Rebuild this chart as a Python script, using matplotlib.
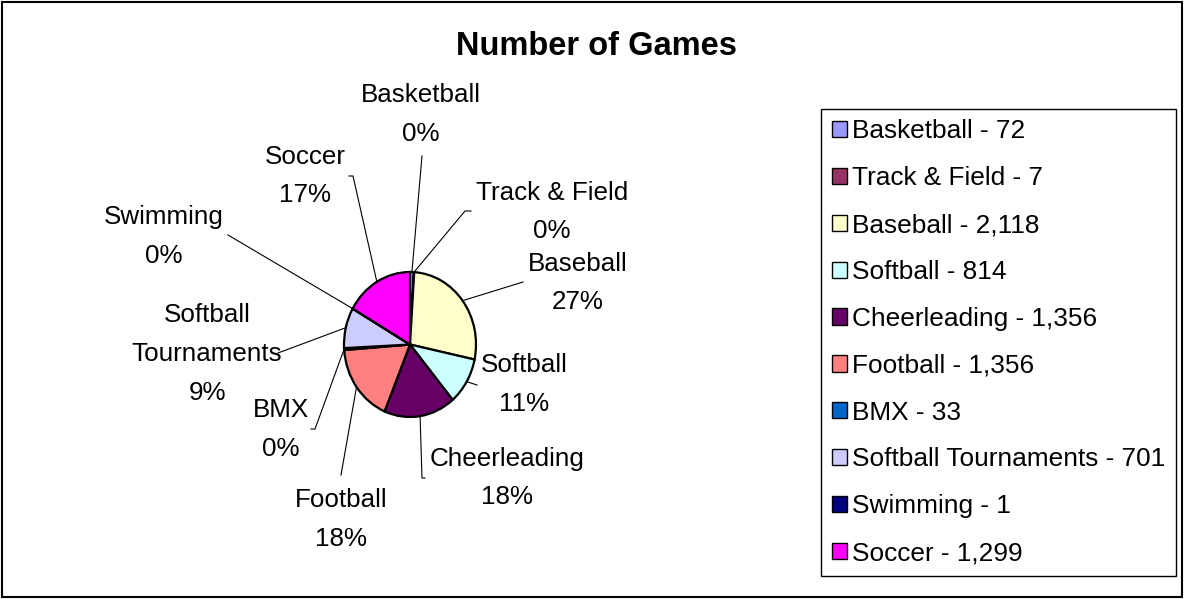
import numpy as np
import matplotlib
matplotlib.use('Agg')
import matplotlib.pyplot as plt
from matplotlib.patches import Patch, Rectangle

plt.rcParams['font.family'] = ['Liberation Sans', 'DejaVu Sans']

# data
sports = ['Basketball', 'Track & Field', 'Baseball', 'Softball', 'Cheerleading',
          'Football', 'BMX', 'Softball Tournaments', 'Swimming', 'Soccer']
games = [72, 7, 2118, 814, 1356, 1356, 33, 701, 1, 1299]
pct_labels = ['0%', '0%', '27%', '11%', '18%', '18%', '0%', '9%', '0%', '17%']
colors = ['#9999FF', '#993366', '#FFFFCC', '#CCFFFF', '#660066',
          '#FF8080', '#0066CC', '#CCCCFF', '#000080', '#FF00FF']

# layout (pixels, top-left origin)
W, H = 1184, 599
cx, cy, rx, ry = 410, 344.5, 66, 72.5  # pie is a little stretched vertically
label_centers = [(421, 112.5), (552, 210), (578, 281), (524, 382.5), (507, 476),
                 (341, 517.5), (281, 427.5), (207, 352), (164, 234.5), (305, 174)]
leader_start = [(422, 156), (471, 211), (523, 282), (477, 385), (425, 478),
                (341, 475), (311, 429), (278, 353), (228, 235), (349, 176)]
leader_elbow = [None, (465, 211), None, None, (422, 478),
                None, (315, 429), None, None, (353, 176)]
line_gap = 38.5
fs = 18.7

fig = plt.figure(figsize=(W / 100, H / 100), dpi=100)

ov = fig.add_axes([0, 0, 1, 1])
ov.set_xlim(0, W)
ov.set_ylim(H, 0)
ov.axis('off')
ov.set_zorder(0)

ax = fig.add_axes([(cx - rx) / W, (H - cy - ry) / H, 2 * rx / W, 2 * ry / H])
wedges, _ = ax.pie(games, colors=colors, startangle=90, counterclock=False,
                   wedgeprops=dict(edgecolor='black', linewidth=1.6))
for w in wedges:
    w.set_clip_on(False)
ax.set_aspect('auto')
ax.set_xlim(-1, 1)
ax.set_ylim(-1, 1)
ax.set_zorder(1)

# leader lines to the middle of each slice
vals = np.array(games, dtype=float)
mid = (np.cumsum(vals) - vals / 2) / vals.sum() * 360
ang = np.radians(90 - mid)
for i in range(len(sports)):
    ex = cx + rx * np.cos(ang[i])
    ey = cy - ry * np.sin(ang[i])
    pts = [leader_start[i]]
    if leader_elbow[i] is not None:
        pts.append(leader_elbow[i])
    pts.append((ex, ey))
    xs, ys = zip(*pts)
    ov.plot(xs, ys, color='black', lw=0.8)

# slice labels
for i, name in enumerate(sports):
    lines = ['Softball', 'Tournaments'] if name == 'Softball Tournaments' else [name]
    lines = lines + [pct_labels[i]]
    x0, y0 = label_centers[i]
    n = len(lines)
    for j, t in enumerate(lines):
        y = y0 + (j - (n - 1) / 2) * line_gap
        ov.text(x0, y + 9, t, ha='center', va='baseline', fontsize=fs)

ov.text(597, 55, 'Number of Games', ha='center', va='baseline',
        fontsize=23.5, fontweight='bold')

handles = [Patch(facecolor=c, edgecolor='black', linewidth=1) for c in colors]
labels = [f'{s} - {g:,}' for s, g in zip(sports, games)]
leg = fig.legend(handles, labels, loc='upper left', bbox_to_anchor=(821 / W, 1 - 109 / H),
                 fontsize=18.9, frameon=True, fancybox=False, edgecolor='black',
                 framealpha=1, borderaxespad=0, borderpad=0.4, handlelength=0.58,
                 handleheight=0.58, handletextpad=0.2, labelspacing=0.87)
leg.get_frame().set_linewidth(1)

fig.add_artist(Rectangle((1.5 / W, 2 / H), (1182 - 1.5) / W, (597 - 2) / H,
                         transform=fig.transFigure, fill=False, edgecolor='black', lw=1.5))

fig.savefig('out.png', dpi=100)
